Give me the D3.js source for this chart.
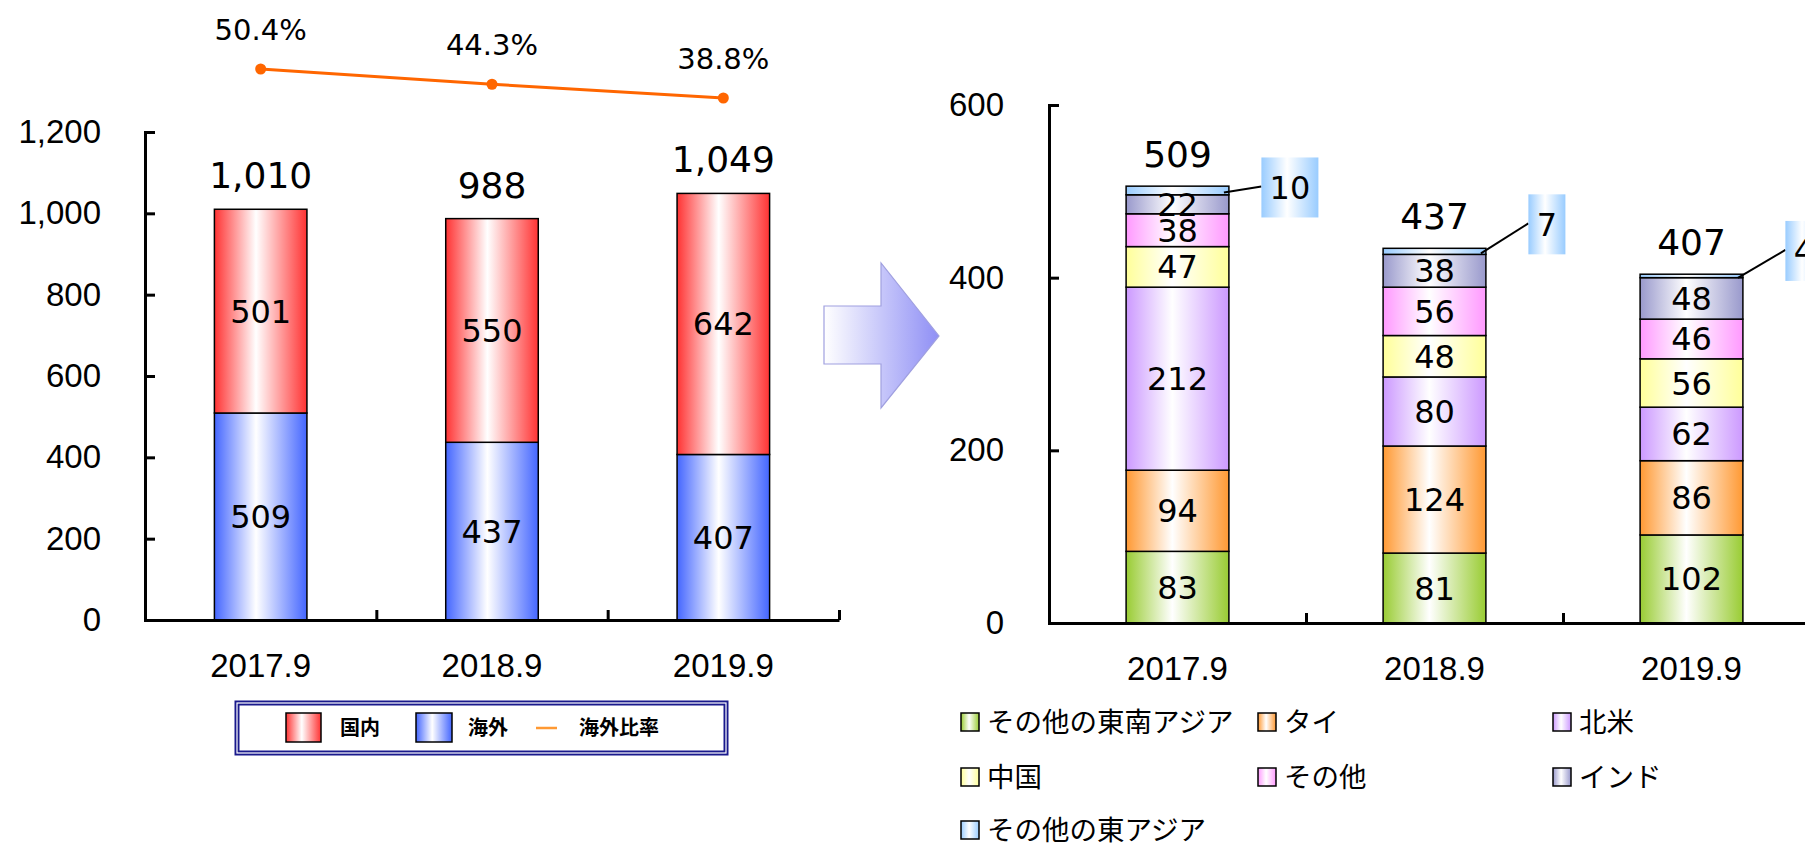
<!DOCTYPE html>
<html>
<head>
<meta charset="utf-8">
<script src="https://cdn.jsdelivr.net/npm/d3@7"></script>
<style>
  body { margin: 0; background: #fff; }
  svg { display: block; font-family: "DejaVu Sans", Verdana, sans-serif; }
  .axis path, .axis line { stroke: #000; stroke-width: 3; }
  .axis text { font-size: 33px; fill: #000; }
</style>
</head>
<body>
<div id="chart"></div>
<script>
// data
let years = ['2017.9', '2018.9', '2019.9'];
let domestic = [501, 550, 642];       // 国内
let overseas = [509, 437, 407];       // 海外
let groupTotals = [1010, 988, 1049];
let overseasRatio = [50.4, 44.3, 38.8];
let leftTicks = [0, 200, 400, 600, 800, 1000, 1200];

let regionNames = ['その他の東南アジア', 'タイ', '北米', '中国', 'その他', 'インド', 'その他の東アジア'];
let seAsia = [83, 81, 102];
let thai = [94, 124, 86];
let northAmerica = [212, 80, 62];
let china = [47, 48, 56];
let others = [38, 56, 46];
let india = [22, 38, 48];
let eastAsia = [10, 7, 4];
let regionTotals = [509, 437, 407];
let rightTicks = [0, 200, 400, 600];

// colours
let leftColors = { dom: '#ff3333', ovs: '#4466ff' };
let regionColors = ['#99cc33', '#ff9933', '#cc99ff', '#ffff99', '#ff99ff', '#9999cc', '#99ccff'];

let svg = d3.select('#chart').append('svg')
    .attr('width', 1805)
    .attr('height', 843);

svg.append('rect').attr('width', 1805).attr('height', 843).attr('fill', '#fff');

let defs = svg.append('defs');
function makeGrad(id, color) {
    let g = defs.append('linearGradient').attr('id', id)
        .attr('x1', 0).attr('x2', 1).attr('y1', 0).attr('y2', 0);
    g.append('stop').attr('offset', '0%').attr('stop-color', color);
    g.append('stop').attr('offset', '45%').attr('stop-color', '#fff');
    g.append('stop').attr('offset', '100%').attr('stop-color', color);
    return 'url(#' + id + ')';
}
let gradDom = makeGrad('g-dom', leftColors.dom);
let gradOvs = makeGrad('g-ovs', leftColors.ovs);
let regionGrads = regionColors.map((c, i) => makeGrad('g-r' + i, c));

let fmt = d3.format(',');

// ---------------- left chart ----------------
let xL = d3.scaleBand().domain(years).range([145, 839]);
let yL = d3.scaleLinear().domain([0, 1200]).range([620, 132]);
let y2 = d3.scaleLinear().domain([0, 60]).range([195, 45]);
let bwL = xL.step() * 0.4;

let leftTable = years.map((y, i) => ({ year: y, ovs: overseas[i], dom: domestic[i] }));
let leftStack = d3.stack().keys(['ovs', 'dom'])(leftTable);
let leftFills = { ovs: gradOvs, dom: gradDom };

let left = svg.append('g').attr('id', 'left');

left.selectAll('.layer')
    .data(leftStack)
    .enter().append('g')
    .attr('class', 'layer')
    .each(function(layer) {
        let g = d3.select(this);
        g.selectAll('rect')
            .data(layer)
            .enter().append('rect')
            .attr('x', d => xL(d.data.year) + (xL.step() - bwL) / 2)
            .attr('y', d => yL(d[1]))
            .attr('width', bwL)
            .attr('height', d => yL(d[0]) - yL(d[1]))
            .attr('fill', leftFills[layer.key])
            .attr('stroke', '#000')
            .attr('stroke-width', 1.5);
        g.selectAll('text')
            .data(layer)
            .enter().append('text')
            .attr('x', d => xL(d.data.year) + xL.step() / 2)
            .attr('y', d => yL((d[0] + d[1]) / 2))
            .attr('dy', '0.36em')
            .attr('text-anchor', 'middle')
            .style('font-size', '32px')
            .text(d => d[1] - d[0]);
    });

left.selectAll('.total')
    .data(years)
    .enter().append('text')
    .attr('class', 'total')
    .attr('x', d => xL(d) + xL.step() / 2)
    .attr('y', (d, i) => yL(domestic[i] + overseas[i]) - 21)
    .attr('text-anchor', 'middle')
    .style('font-size', '36px')
    .text((d, i) => fmt(groupTotals[i]));

// axes
left.append('g')
    .attr('class', 'axis')
    .attr('transform', translate(145, 0))
    .call(d3.axisLeft(yL).tickValues(leftTicks).tickFormat(fmt)
        .tickSizeInner(-10).tickSizeOuter(-10).tickPadding(44));

left.append('g')
    .attr('class', 'axis')
    .attr('transform', translate(0, 620))
    .call(d3.axisBottom(xL).tickSize(0).tickPadding(34));

let bndL = d3.scaleLinear().domain([0, 3]).range([145, 839]);
left.append('g')
    .attr('class', 'axis')
    .attr('transform', translate(0, 620))
    .call(d3.axisBottom(bndL).tickValues([1, 2, 3]).tickFormat('').tickSizeInner(-10).tickSizeOuter(0))
    .select('.domain').remove();

// ratio line
let line = d3.line()
    .x((d, i) => xL(years[i]) + xL.step() / 2)
    .y(d => y2(d));

left.append('path')
    .datum(overseasRatio)
    .attr('d', line)
    .attr('fill', 'none')
    .attr('stroke', '#ff6600')
    .attr('stroke-width', 3);

left.selectAll('.pt')
    .data(overseasRatio)
    .enter().append('circle')
    .attr('class', 'pt')
    .attr('cx', (d, i) => xL(years[i]) + xL.step() / 2)
    .attr('cy', d => y2(d))
    .attr('r', 5.5)
    .attr('fill', '#ff6600');

left.selectAll('.pct')
    .data(overseasRatio)
    .enter().append('text')
    .attr('class', 'pct')
    .attr('x', (d, i) => xL(years[i]) + xL.step() / 2)
    .attr('y', d => y2(d) - 29)
    .attr('text-anchor', 'middle')
    .style('font-size', '29px')
    .text(d => d.toFixed(1) + '%');

// left legend
let lg = svg.append('g').attr('id', 'legend-left');
lg.append('rect').attr('x', 237).attr('y', 703).attr('width', 489).attr('height', 50)
    .attr('fill', '#fff').attr('stroke', '#1a1a8c').attr('stroke-width', 5);
lg.append('rect').attr('x', 237).attr('y', 703).attr('width', 489).attr('height', 50)
    .attr('fill', 'none').attr('stroke', '#fff').attr('stroke-width', 1.2);
lg.append('rect').attr('x', 286).attr('y', 713).attr('width', 35).attr('height', 29)
    .attr('fill', gradDom).attr('stroke', '#000').attr('stroke-width', 1.5);
lg.append('rect').attr('x', 416).attr('y', 713).attr('width', 36).attr('height', 29)
    .attr('fill', gradOvs).attr('stroke', '#000').attr('stroke-width', 1.5);
lg.append('line').attr('x1', 536).attr('x2', 557).attr('y1', 728).attr('y2', 728)
    .attr('stroke', '#ff9933').attr('stroke-width', 2.5);
[['国内', 340], ['海外', 468], ['海外比率', 579]].forEach(function(t) {
    lg.append('text').attr('x', t[1]).attr('y', 728).attr('dy', '0.36em')
        .style('font-family', '"Noto Sans CJK JP", sans-serif')
        .style('font-weight', 'bold')
        .style('font-size', '20px')
        .text(t[0]);
});

// arrow
let arrowGrad = defs.append('linearGradient').attr('id', 'g-arrow')
    .attr('x1', 0).attr('x2', 1).attr('y1', 0).attr('y2', 0);
arrowGrad.append('stop').attr('offset', '0%').attr('stop-color', '#ffffff');
arrowGrad.append('stop').attr('offset', '100%').attr('stop-color', '#8f8ff5');
svg.append('path')
    .attr('d', 'M824,306H881V263L939,336L881,408V364H824Z')
    .attr('fill', 'url(#g-arrow)')
    .attr('stroke', '#a0a0e0')
    .attr('stroke-width', 1.2);

// ---------------- right chart ----------------
let xR = d3.scaleBand().domain(years).range([1049, 1820]);
let yR = d3.scaleLinear().domain([0, 600]).range([623, 105]);
let bwR = xR.step() * 0.4;

let regionSeries = [seAsia, thai, northAmerica, china, others, india, eastAsia];
let rightTable = years.map((y, i) => {
    let row = { year: y };
    regionNames.forEach((n, k) => { row[n] = regionSeries[k][i]; });
    return row;
});
let rightStack = d3.stack().keys(regionNames)(rightTable);

let right = svg.append('g').attr('id', 'right');

right.selectAll('.layer')
    .data(rightStack)
    .enter().append('g')
    .attr('class', 'layer')
    .each(function(layer, k) {
        let g = d3.select(this);
        g.selectAll('rect')
            .data(layer)
            .enter().append('rect')
            .attr('x', d => xR(d.data.year) + (xR.step() - bwR) / 2)
            .attr('y', d => yR(d[1]))
            .attr('width', bwR)
            .attr('height', d => yR(d[0]) - yR(d[1]))
            .attr('fill', regionGrads[k])
            .attr('stroke', '#000')
            .attr('stroke-width', 1.5);
    });

// labels inside segments (all but the last, thin one)
rightStack.slice(0, 6).forEach(function(layer) {
    right.append('g').selectAll('text')
        .data(layer)
        .enter().append('text')
        .attr('x', d => xR(d.data.year) + xR.step() / 2)
        .attr('y', d => yR((d[0] + d[1]) / 2))
        .attr('dy', '0.36em')
        .attr('text-anchor', 'middle')
        .style('font-size', '32px')
        .text(d => d[1] - d[0]);
});

// callouts for その他の東アジア
let calloutRise = [3, 27, 25];
let topLayer = rightStack[6];
topLayer.forEach(function(d, i) {
    let barRight = xR(d.data.year) + (xR.step() + bwR) / 2;
    let midY = yR((d[0] + d[1]) / 2);
    let cy = midY - calloutRise[i];
    let cx = barRight + 61;
    let txt = String(d[1] - d[0]);
    let w = txt.length * 20 + 17;
    right.append('line')
        .attr('x1', barRight - 5).attr('y1', midY + 2)
        .attr('x2', cx - w / 2).attr('y2', cy - 1)
        .attr('stroke', '#000').attr('stroke-width', 2);
    right.append('rect')
        .attr('x', cx - w / 2).attr('y', cy - 30)
        .attr('width', w).attr('height', 60)
        .attr('fill', regionGrads[6]);
    right.append('text')
        .attr('x', cx).attr('y', cy).attr('dy', '0.36em')
        .attr('text-anchor', 'middle')
        .style('font-size', '32px')
        .text(txt);
});

right.selectAll('.total')
    .data(years)
    .enter().append('text')
    .attr('class', 'total')
    .attr('x', d => xR(d) + xR.step() / 2)
    .attr('y', (d, i) => yR(d3.sum(regionSeries, s => s[i])) - 19)
    .attr('text-anchor', 'middle')
    .style('font-size', '36px')
    .text((d, i) => fmt(regionTotals[i]));

right.append('g')
    .attr('class', 'axis')
    .attr('transform', translate(1049, 0))
    .call(d3.axisLeft(yR).tickValues(rightTicks)
        .tickSizeInner(-10).tickSizeOuter(-10).tickPadding(45));

right.append('g')
    .attr('class', 'axis')
    .attr('transform', translate(0, 623))
    .call(d3.axisBottom(xR).tickSize(0).tickPadding(34));

let bndR = d3.scaleLinear().domain([0, 3]).range([1049, 1820]);
right.append('g')
    .attr('class', 'axis')
    .attr('transform', translate(0, 623))
    .call(d3.axisBottom(bndR).tickValues([1, 2]).tickFormat('').tickSizeInner(-10).tickSizeOuter(0))
    .select('.domain').remove();

// right legend, three columns
let colX = [961, 1258, 1553];
let rowY = [722, 777, 830];
let rl = svg.append('g').attr('id', 'legend-right');
regionNames.forEach(function(n, k) {
    let x = colX[k % 3], y = rowY[Math.floor(k / 3)];
    rl.append('rect').attr('x', x).attr('y', y - 9).attr('width', 18).attr('height', 18)
        .attr('fill', regionGrads[k]).attr('stroke', '#000').attr('stroke-width', 1.5);
    rl.append('text').attr('x', x + 26).attr('y', y).attr('dy', '0.36em')
        .style('font-family', '"Noto Sans CJK JP", sans-serif')
        .style('font-size', '27.5px')
        .text(n);
});

// helper method to make translating easier
function translate(x, y) {
    return 'translate(' + x + ',' + y + ')';
}
</script>
</body>
</html>
